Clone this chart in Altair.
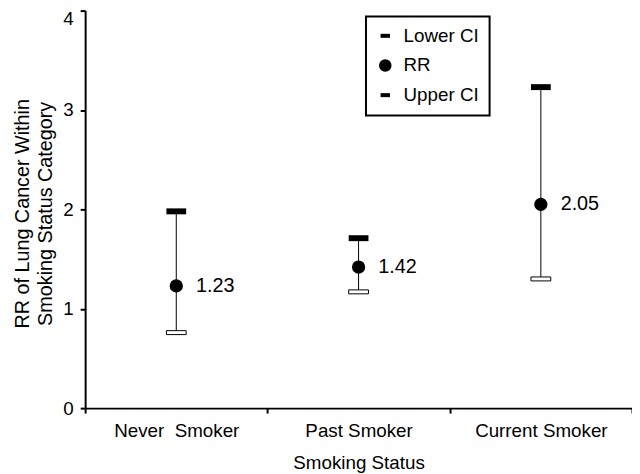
import altair as alt
import pandas as pd

categories = ["Never\u00a0 Smoker", "Past Smoker", "Current Smoker"]
rr = [1.23, 1.42, 2.05]
lower_ci = [0.76, 1.17, 1.30]
upper_ci = [1.98, 1.71, 3.23]
rr_labels = ["1.23", "1.42", "2.05"]
series = ["RR", "RR", "RR"]
legend_order = ["Lower CI", "RR", "Upper CI"]
y_ticks = [0, 1, 2, 3, 4]

df = pd.DataFrame({
    "status": categories,
    "rr": rr,
    "lower": lower_ci,
    "upper": upper_ci,
    "label": rr_labels,
    "series": series,
})

FONT = "Liberation Sans"
DASH = "M-0.75,-0.32H0.75V0.32H-0.75Z"

x_enc = alt.X(
    "status:N",
    sort=categories,
    scale=alt.Scale(type="band", paddingInner=0, paddingOuter=0),
    axis=alt.Axis(title="Smoking Status", labelAngle=0, tickBand="extent"),
)

base = alt.Chart(df)

rule = base.mark_rule(color="black", strokeWidth=1).encode(
    x=x_enc,
    y=alt.Y(
        "lower:Q",
        scale=alt.Scale(domain=[0, 4], nice=False, zero=True),
        axis=alt.Axis(
            values=y_ticks,
            format="d",
            grid=False,
            title=["RR of Lung Cancer Within", "Smoking Status Category"],
            titleX=-53,
            titleY=205,
            titleFontSize=20,
            titleLineHeight=23,
            labelOffset={"condition": {"test": "datum.value == 4", "value": 8}, "value": 0},
        ),
    ),
    y2="upper:Q",
)

upper_tick = base.mark_tick(color="black", size=20, thickness=6, opacity=1).encode(
    x=x_enc, y="upper:Q"
)

lower_tick = base.mark_tick(
    fill="white", stroke="black", strokeWidth=1, size=20, thickness=4, opacity=1
).encode(x=x_enc, y="lower:Q")

points = base.mark_point(filled=True, size=180, color="black", opacity=1).encode(
    x=x_enc,
    y="rr:Q",
    shape=alt.Shape(
        "series:N",
        scale=alt.Scale(domain=legend_order, range=[DASH, "circle", DASH]),
        legend=alt.Legend(
            title=None,
            orient="none",
            legendX=284,
            legendY=6,
            symbolSize=160,
            symbolFillColor="black",
            symbolStrokeWidth=0,
            labelFontSize=19,
            labelFont=FONT,
            labelColor="black",
            labelOffset=9,
            rowPadding=10,
            padding=10,
            strokeColor="black",
        ),
    ),
)

labels = base.mark_text(
    align="left", baseline="middle", dx=20, fontSize=20, font=FONT, color="black"
).encode(x=x_enc, y="rr:Q", text="label:N")

chart = (
    alt.layer(rule, upper_tick, lower_tick, points, labels)
    .properties(
        width=553,
        height=402,
        autosize=alt.AutoSizeParams(type="none"),
        padding={"left": 78, "top": 0, "right": 0, "bottom": 66},
    )
    .configure_view(stroke=None)
    .configure_axis(
        domainColor="black",
        domainWidth=2,
        tickColor="black",
        tickWidth=2,
        tickSize=5,
        labelFont=FONT,
        labelFontSize=19,
        labelColor="black",
        titleFont=FONT,
        titleFontSize=19,
        titleFontWeight="normal",
        titleColor="black",
    )
    .configure_axisX(labelPadding=9, titlePadding=13)
    .configure_axisY(labelPadding=7)
    .configure_legend(strokeWidth=2)
)

chart.save("out.html", embed_options={"renderer": "svg", "actions": False})
